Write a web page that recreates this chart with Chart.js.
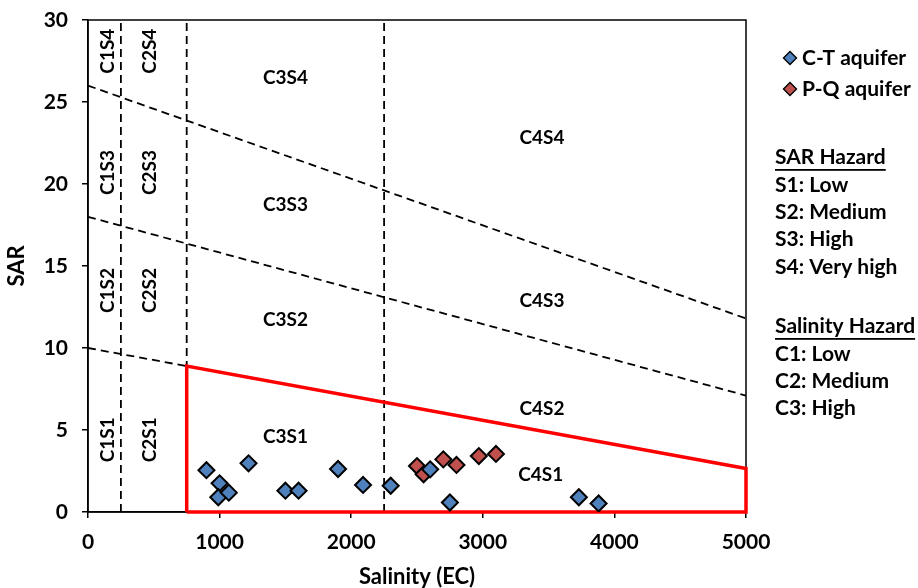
<!DOCTYPE html>
<html>
<head>
<meta charset="utf-8">
<script src="https://cdn.jsdelivr.net/npm/chart.js@4.4.1/dist/chart.umd.min.js"></script>
<style>
  html, body { margin: 0; padding: 0; background: #fff; }
  #wrap { width: 918px; height: 588px; }
</style>
</head>
<body>
<div id="wrap"><canvas id="wilcox"></canvas></div>
<script>
// C-T aquifer samples
const ctEC  = [900, 1000, 990, 1070, 1220, 1500, 1600, 1900, 2090, 2300, 2600, 2750, 3730, 3880];
const ctSAR = [2.55, 1.75, 0.9, 1.18, 2.97, 1.3, 1.3, 2.62, 1.65, 1.6, 2.6, 0.58, 0.9, 0.52];

// P-Q aquifer samples
const pqEC  = [2500, 2550, 2700, 2800, 2970, 3100];
const pqSAR = [2.8, 2.3, 3.21, 2.87, 3.41, 3.54];

// Salinity class limits (EC) and sodium hazard lines (SAR at EC = 0 and EC = 5000)
const ecLimits = [250, 750, 2250];
const sarStart = [10, 18, 26];
const sarEnd   = [2.65, 7.1, 11.8];

const xTicks = [0, 1000, 2000, 3000, 4000, 5000];
const yTicks = [0, 5, 10, 15, 20, 25, 30];

const legendLabels = ['C-T aquifer', 'P-Q aquifer'];
const sarHazard = ['S1: Low', 'S2: Medium', 'S3: High', 'S4: Very high'];
const salHazard = ['C1: Low', 'C2: Medium', 'C3: High'];

// zone names, placed in data units; rot = rotated vertical labels
const zones = [
  { t: 'C1S4', x: 152, y: 28.1, rot: true }, { t: 'C2S4', x: 471, y: 28.1, rot: true },
  { t: 'C1S3', x: 152, y: 20.7, rot: true }, { t: 'C2S3', x: 471, y: 20.7, rot: true },
  { t: 'C1S2', x: 152, y: 13.5, rot: true }, { t: 'C2S2', x: 471, y: 13.5, rot: true },
  { t: 'C1S1', x: 152, y: 4.4, rot: true },  { t: 'C2S1', x: 471, y: 4.4, rot: true },
  { t: 'C3S4', x: 1500, y: 26.5 }, { t: 'C3S3', x: 1500, y: 18.7 },
  { t: 'C3S2', x: 1500, y: 11.7 }, { t: 'C3S1', x: 1500, y: 4.6 },
  { t: 'C4S4', x: 3450, y: 22.8 }, { t: 'C4S3', x: 3450, y: 12.9 },
  { t: 'C4S2', x: 3450, y: 6.3 },  { t: 'C4S1', x: 3440, y: 2.25 }
];

const FONT = 'Lato, "Open Sans", sans-serif';
const BLUE = '#4F81BD';
const RED = '#C0504D';

const pts = (xs, ys) => xs.map((x, i) => ({ x, y: ys[i] }));
const sarAt = (i, ec) => sarStart[i] + (sarEnd[i] - sarStart[i]) * ec / 5000;

const dashed = {
  showLine: true, borderColor: '#000', borderWidth: 1.8, borderDash: [8, 5],
  pointRadius: 0, fill: false, clip: false, order: 5
};

const datasets = [
  {
    label: legendLabels[0], data: pts(ctEC, ctSAR), pointStyle: 'rectRot',
    pointRadius: 8, pointHoverRadius: 8, backgroundColor: BLUE,
    borderColor: '#000', borderWidth: 2, order: 1
  },
  {
    label: legendLabels[1], data: pts(pqEC, pqSAR), pointStyle: 'rectRot',
    pointRadius: 8, pointHoverRadius: 8, backgroundColor: RED,
    borderColor: '#000', borderWidth: 2, order: 1
  }
];

// vertical salinity limits
ecLimits.forEach(ec => {
  datasets.push(Object.assign({}, dashed, { data: [{ x: ec, y: 0 }, { x: ec, y: 30 }] }));
});
// S2/S3 and S3/S4 limits across the chart, S1/S2 only up to the C3 limit
datasets.push(Object.assign({}, dashed, { data: [{ x: 0, y: sarStart[0] }, { x: ecLimits[1], y: sarAt(0, ecLimits[1]) }] }));
[1, 2].forEach(i => {
  datasets.push(Object.assign({}, dashed, { data: [{ x: 0, y: sarStart[i] }, { x: 5000, y: sarEnd[i] }] }));
});
// C3S1 + C4S1 region outline
datasets.push({
  showLine: true, borderColor: '#FF0000', borderWidth: 3.5, pointRadius: 0,
  fill: false, clip: false, order: 3,
  data: [
    { x: ecLimits[1], y: 0 }, { x: ecLimits[1], y: sarAt(0, ecLimits[1]) },
    { x: 5000, y: sarEnd[0] }, { x: 5000, y: 0 }, { x: ecLimits[1], y: 0 }
  ]
});

const overlay = {
  id: 'overlay',
  beforeDatasetsDraw(chart) {
    const { ctx, chartArea: a, scales: { x, y } } = chart;
    ctx.save();
    // frame around the plot area
    ctx.strokeStyle = '#000';
    ctx.lineWidth = 1.5;
    ctx.strokeRect(a.left, a.top, a.right - a.left, a.bottom - a.top);
    // zone names
    ctx.fillStyle = '#000';
    ctx.font = 'bold 19px ' + FONT;
    ctx.textAlign = 'center';
    ctx.textBaseline = 'middle';
    zones.forEach(z => {
      const px = x.getPixelForValue(z.x), py = y.getPixelForValue(z.y);
      if (z.rot) {
        ctx.save();
        ctx.translate(px, py);
        ctx.rotate(-Math.PI / 2);
        ctx.fillText(z.t, 0, 0);
        ctx.restore();
      } else {
        ctx.fillText(z.t, px, py);
      }
    });
    ctx.restore();
  },
  afterDraw(chart) {
    const { ctx } = chart;
    ctx.save();
    ctx.fillStyle = '#000';
    ctx.textBaseline = 'middle';
    ctx.textAlign = 'left';
    ctx.font = 'bold 21px ' + FONT;
    // series legend
    [BLUE, RED].forEach((c, i) => {
      const cy = 58 + i * 31;
      ctx.beginPath();
      ctx.moveTo(790, cy - 6.5); ctx.lineTo(796.5, cy); ctx.lineTo(790, cy + 6.5); ctx.lineTo(783.5, cy);
      ctx.closePath();
      ctx.fillStyle = c; ctx.fill();
      ctx.strokeStyle = '#000'; ctx.lineWidth = 1.4; ctx.stroke();
      ctx.fillStyle = '#000';
      ctx.fillText(legendLabels[i], 802, cy);
    });
    // hazard keys
    const block = (title, lines, top) => {
      ctx.fillText(title, 775, top);
      const w = ctx.measureText(title).width;
      ctx.fillRect(775, top + 12, w, 1.8);
      lines.forEach((l, i) => ctx.fillText(l, 775, top + 28 + i * 27.3));
    };
    block('SAR Hazard', sarHazard, 157);
    block('Salinity Hazard', salHazard, 326);
    ctx.restore();
  }
};

new Chart(document.getElementById('wilcox'), {
  type: 'scatter',
  data: { datasets },
  options: {
    responsive: true,
    maintainAspectRatio: false,
    animation: false,
    layout: { padding: { top: 20, right: 172, left: 0, bottom: 0 } },
    plugins: { legend: { display: false }, tooltip: { enabled: false } },
    scales: {
      x: {
        type: 'linear', min: 0, max: 5000,
        afterBuildTicks: s => { s.ticks = xTicks.map(v => ({ value: v })); },
        afterFit: s => { s.height = 76; s.paddingLeft = 0; s.paddingRight = 0; },
        grid: { display: true, drawOnChartArea: false, drawTicks: true, tickLength: 6, color: '#000', lineWidth: 1.5 },
        border: { color: '#000', width: 1.5 },
        ticks: { color: '#000', font: { family: FONT, size: 21, weight: 'bold' }, padding: 12, maxRotation: 0, callback: v => String(v) },
        title: { display: true, text: 'Salinity (EC)', color: '#000', font: { family: FONT, size: 22, weight: 'bold', lineHeight: 1 }, padding: { top: 4, bottom: 0 } }
      },
      y: {
        type: 'linear', min: 0, max: 30,
        afterBuildTicks: s => { s.ticks = yTicks.map(v => ({ value: v })); },
        afterFit: s => { s.width = 88; s.paddingTop = 0; s.paddingBottom = 0; },
        grid: { display: true, drawOnChartArea: false, drawTicks: true, tickLength: 6, color: '#000', lineWidth: 1.5 },
        border: { color: '#000', width: 1.5 },
        ticks: { color: '#000', font: { family: FONT, size: 21, weight: 'bold' }, padding: 14, callback: v => String(v) },
        title: { display: true, text: 'SAR', color: '#000', font: { family: FONT, size: 22, weight: 'bold' }, padding: { bottom: 0 } }
      }
    }
  },
  plugins: [overlay]
});
</script>
</body>
</html>
